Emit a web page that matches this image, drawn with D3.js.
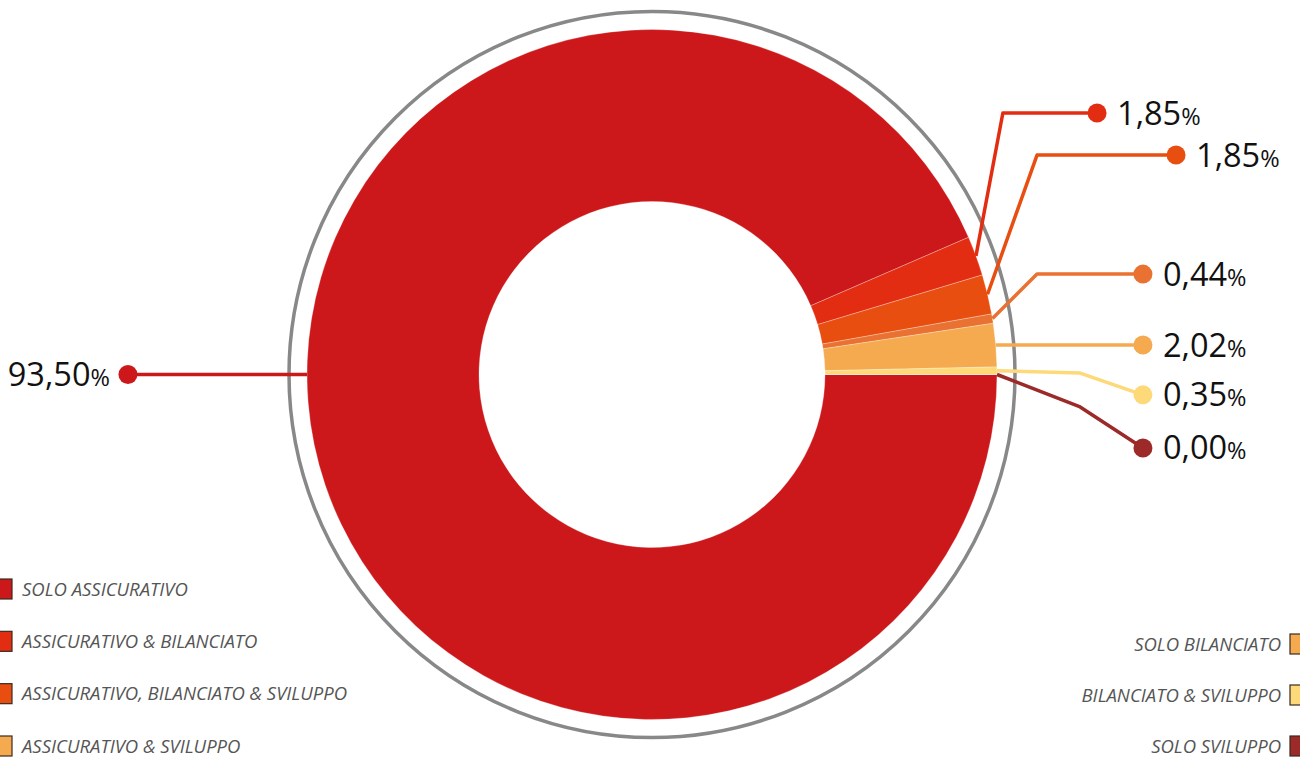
<!DOCTYPE html>
<html><head><meta charset="utf-8">
<script src="https://cdn.jsdelivr.net/npm/d3@7/dist/d3.min.js"></script>
<style>
html,body{margin:0;padding:0;background:#fff;overflow:hidden;}
svg{display:block;font-family:"Open Sans",sans-serif;}
</style></head>
<body>
<svg id="chart" width="1300" height="757"></svg>
<script>
// ---- data ----
const categories = ["SOLO ASSICURATIVO","ASSICURATIVO & BILANCIATO","ASSICURATIVO, BILANCIATO & SVILUPPO","ASSICURATIVO & SVILUPPO","SOLO BILANCIATO","BILANCIATO & SVILUPPO","SOLO SVILUPPO"];
const values = [93.50, 1.85, 1.85, 0.44, 2.02, 0.35, 0.00];
const valueLabels = ["93,50","1,85","1,85","0,44","2,02","0,35","0,00"];
const sliceColors = ["#cc181a","#e32d12","#e84e10","#e97131","#f5aa50","#fed97a","#9b2a29"];
const legendColors = ["#cc181a","#e32d12","#e84e10","#f5aa50","#f5aa50","#fed97a","#9b2a29"];
const legendLeft = [0,1,2,3];
const legendRight = [4,5,6];

// ---- layout ----
const W = 1300, H = 757;
const cx = 652, cy = 374.5, R = 345, r0 = 173, ringR = 363;
// label leader layout in units of the outer radius, relative to centre
const leaderLayout = [
  {anchor: -Math.PI/2, elbow: null, dot: [-1.519, null], side: "left"},
  {elbow: [1.017, -0.758], dot: [1.290, -0.758]},
  {elbow: [1.116, -0.636], dot: [1.519, -0.636]},
  {elbow: [1.116, -0.291], dot: [1.423, -0.291]},
  {elbow: null, dot: [1.423, null]},
  {elbow: [1.241, -0.004], dot: [1.423, 0.059]},
  {elbow: [1.241, 0.094], dot: [1.423, 0.213]}
];

const svg = d3.select("#chart");
const g = svg.append("g").attr("transform", `translate(${cx},${cy})`);

const pie = d3.pie().sort(null).value(d => d)
  .startAngle(Math.PI/2).endAngle(Math.PI/2 + 2*Math.PI);
const arcs = pie(values);
const arc = d3.arc().innerRadius(r0).outerRadius(R);

// outer ring
g.append("circle").attr("r", ringR).attr("fill","none")
  .attr("stroke","#888").attr("stroke-width",3.5);

g.selectAll("path.slice").data(arcs).enter().append("path")
  .attr("class","slice")
  .attr("d", arc)
  .attr("fill", (d,i) => sliceColors[i])
  .attr("stroke", "rgba(255,255,255,0.45)")
  .attr("stroke-width", 0.6);

// leaders
const lineGen = d3.line();
arcs.forEach((d,i) => {
  const L = leaderLayout[i];
  const a = (L.anchor !== undefined) ? L.anchor : (d.startAngle + d.endAngle)/2;
  const sx = R*Math.sin(a), sy = -R*Math.cos(a);
  const pts = [[sx, sy]];
  if (L.elbow) pts.push([L.elbow[0]*R, L.elbow[1]*R]);
  const dy = (L.dot[1] === null) ? sy : L.dot[1]*R;
  const dx = L.dot[0]*R;
  pts.push([dx, dy]);
  g.append("path").attr("d", lineGen(pts)).attr("fill","none")
    .attr("stroke", sliceColors[i]).attr("stroke-width",3.5)
    .attr("stroke-linejoin","round");
  g.append("circle").attr("cx",dx).attr("cy",dy).attr("r",9.5).attr("fill",sliceColors[i]);
  const left = L.side === "left";
  const t = g.append("text")
    .attr("x", left ? dx - 18 : dx + 20)
    .attr("y", dy + 11.5)
    .attr("text-anchor", left ? "end" : "start")
    .attr("fill","#111");
  t.append("tspan").attr("font-size",32.5).text(valueLabels[i]);
  t.append("tspan").attr("font-size",23.5).text("%");
});

// legend
const leftY = d3.scalePoint().domain(legendLeft).range([589, 746]);
const rightY = d3.scalePoint().domain(legendRight).range([644, 746]);
const lg = svg.append("g");
const fs = 18.5;
legendLeft.forEach(i => {
  const y = leftY(i);
  lg.append("rect").attr("x",-8).attr("y",y-10).attr("width",20).attr("height",20)
    .attr("fill",legendColors[i]).attr("stroke","#3a2a20").attr("stroke-width",1.2);
  lg.append("text").attr("x",22).attr("y",y+6.5).attr("font-size",fs)
    .attr("font-style","italic").attr("fill","#555").text(categories[i]);
});
legendRight.forEach(i => {
  const y = rightY(i);
  lg.append("rect").attr("x",1290).attr("y",y-10).attr("width",20).attr("height",20)
    .attr("fill",legendColors[i]).attr("stroke","#3a2a20").attr("stroke-width",1.2);
  lg.append("text").attr("x",1281).attr("y",y+6.5).attr("font-size",fs)
    .attr("text-anchor","end")
    .attr("font-style","italic").attr("fill","#555").text(categories[i]);
});
</script>
</body></html>
